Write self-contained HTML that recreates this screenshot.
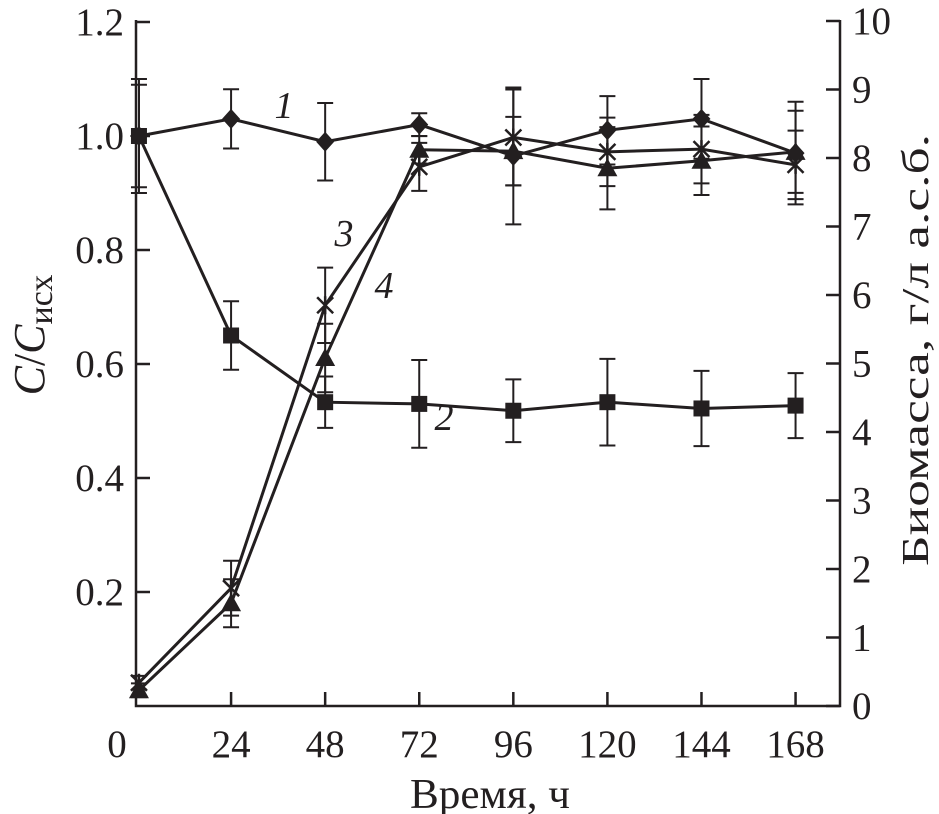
<!DOCTYPE html>
<html><head><meta charset="utf-8"><style>
body{margin:0;background:#fff}
svg{display:block;font-family:"Liberation Serif",serif;fill:#231f20}
</style></head><body>
<svg id="chart" width="939" height="814">
<g id="axes"></g>
<g id="marks"></g>
<text x="44" y="335" font-size="44" text-anchor="middle" transform="rotate(-90 44 335)"><tspan font-style="italic">C</tspan>/<tspan font-style="italic">C</tspan><tspan font-size="34" dy="8">исх</tspan></text>
<text x="928" y="350" font-size="38" text-anchor="middle" textLength="432" lengthAdjust="spacingAndGlyphs" transform="rotate(-90 928 350)">Биомасса, г/л а.с.б.</text>
<text x="490" y="808" font-size="42" text-anchor="middle" textLength="160" lengthAdjust="spacingAndGlyphs">Время, ч</text>
<text x="284" y="118" font-size="38" font-style="italic" text-anchor="middle">1</text>
<text x="444" y="430" font-size="38" font-style="italic" text-anchor="middle">2</text>
<text x="344" y="246" font-size="38" font-style="italic" text-anchor="middle">3</text>
<text x="384" y="298" font-size="38" font-style="italic" text-anchor="middle">4</text>
</svg>
<script>
const times=[0.5,24,48,72,96,120,144,168];
const s1=[1.0,1.03,0.99,1.02,0.965,1.01,1.03,0.97];
const s1err=[0.1,0.052,0.068,0.02,0.12,0.06,0.07,0.09];
const s2=[1.0,0.65,0.533,0.53,0.518,0.533,0.522,0.527];
const s2err=[0.09,0.06,0.045,0.077,0.055,0.076,0.066,0.057];
const s3=[0.34,1.72,5.85,7.87,8.3,8.09,8.13,7.9];
const s3err=[0.1,0.4,0.55,0.35,0.7,0.5,0.5,0.5];
const s4=[0.23,1.5,5.08,8.12,8.1,7.85,7.96,8.09];
const s4err=[0.1,0.35,0.5,0.2,0.5,0.6,0.5,0.6];
const xTicks=[0,24,48,72,96,120,144,168];
const yLeftTicks=[0.2,0.4,0.6,0.8,1.0,1.2];
const yRightTicks=[0,1,2,3,4,5,6,7,8,9,10];
const NS="http://www.w3.org/2000/svg";
const X0=137,XL=136,XR=840,YB=706;
const xs=t=>X0+t*3.92;
const yl=v=>YB-v*570;
const yr=v=>YB-v*68.5;
const ax=document.getElementById('axes'),mk=document.getElementById('marks');
function el(p,tag,a){const e=document.createElementNS(NS,tag);for(const k in a)e.setAttribute(k,a[k]);p.appendChild(e);return e;}
const st={stroke:'#231f20','stroke-width':2.5,fill:'none'};
let e=el(ax,'path',Object.assign({d:`M${XL},20V${YB}H${XR}V20`},st));

xTicks.forEach(t=>{const x=xs(t);
 if(t>0){e=el(ax,'line',Object.assign({x1:x,x2:x,y1:YB,y2:YB-14},st));}
 e=el(ax,'text',{x:t===0?117:x,y:757,'font-size':39,'text-anchor':'middle'});e.textContent=t;
 });
yLeftTicks.forEach(v=>{const y=yl(v);
 e=el(ax,'line',Object.assign({x1:XL,x2:XL+14,y1:y,y2:y},st));
 e=el(ax,'text',{x:124,y:y+13,'font-size':39,'text-anchor':'end'});e.textContent=v.toFixed(1);
 });
yRightTicks.forEach(v=>{const y=yr(v);
 e=el(ax,'line',Object.assign({x1:XR-14,x2:XR,y1:y,y2:y},st));
 e=el(ax,'text',{x:852,y:y+13,'font-size':39,'text-anchor':'start'});e.textContent=v;
 });
function series(vals,errs,sc,marker,name){
 const g=el(mk,'g',{});
 vals.forEach((v,i)=>{const x=xs(times[i]),a=sc(v+errs[i]),b=sc(v-errs[i]);
  e=el(g,'path',{d:`M${x},${a}V${b}M${x-8},${a}h16M${x-8},${b}h16`,stroke:'#231f20','stroke-width':2,fill:'none'});
  });
 e=el(g,'polyline',Object.assign({points:vals.map((v,i)=>xs(times[i])+','+sc(v)).join(' ')},st,{'stroke-width':3}));
 
 vals.forEach((v,i)=>{const x=xs(times[i]),y=sc(v);let m;
  if(marker==='d')m=el(g,'path',{d:`M${x},${y-10}L${x+9},${y}L${x},${y+10}L${x-9},${y}Z`,fill:'#231f20'});
  else if(marker==='s')m=el(g,'rect',{x:x-8,y:y-8,width:16,height:16,fill:'#231f20'});
  else if(marker==='t')m=el(g,'path',{d:`M${x},${y-10}L${x+10},${y+8}L${x-10},${y+8}Z`,fill:'#231f20'});
  else m=el(g,'path',{d:`M${x-8},${y-8}L${x+8},${y+8}M${x+8},${y-8}L${x-8},${y+8}M${x},${y-9}V${y+9}`,stroke:'#231f20','stroke-width':2.5});
  });
}
series(s3,s3err,yr,'x','series-3');
series(s4,s4err,yr,'t','series-4');
series(s2,s2err,yl,'s','series-2');
series(s1,s1err,yl,'d','series-1');
</script>
</body></html>
